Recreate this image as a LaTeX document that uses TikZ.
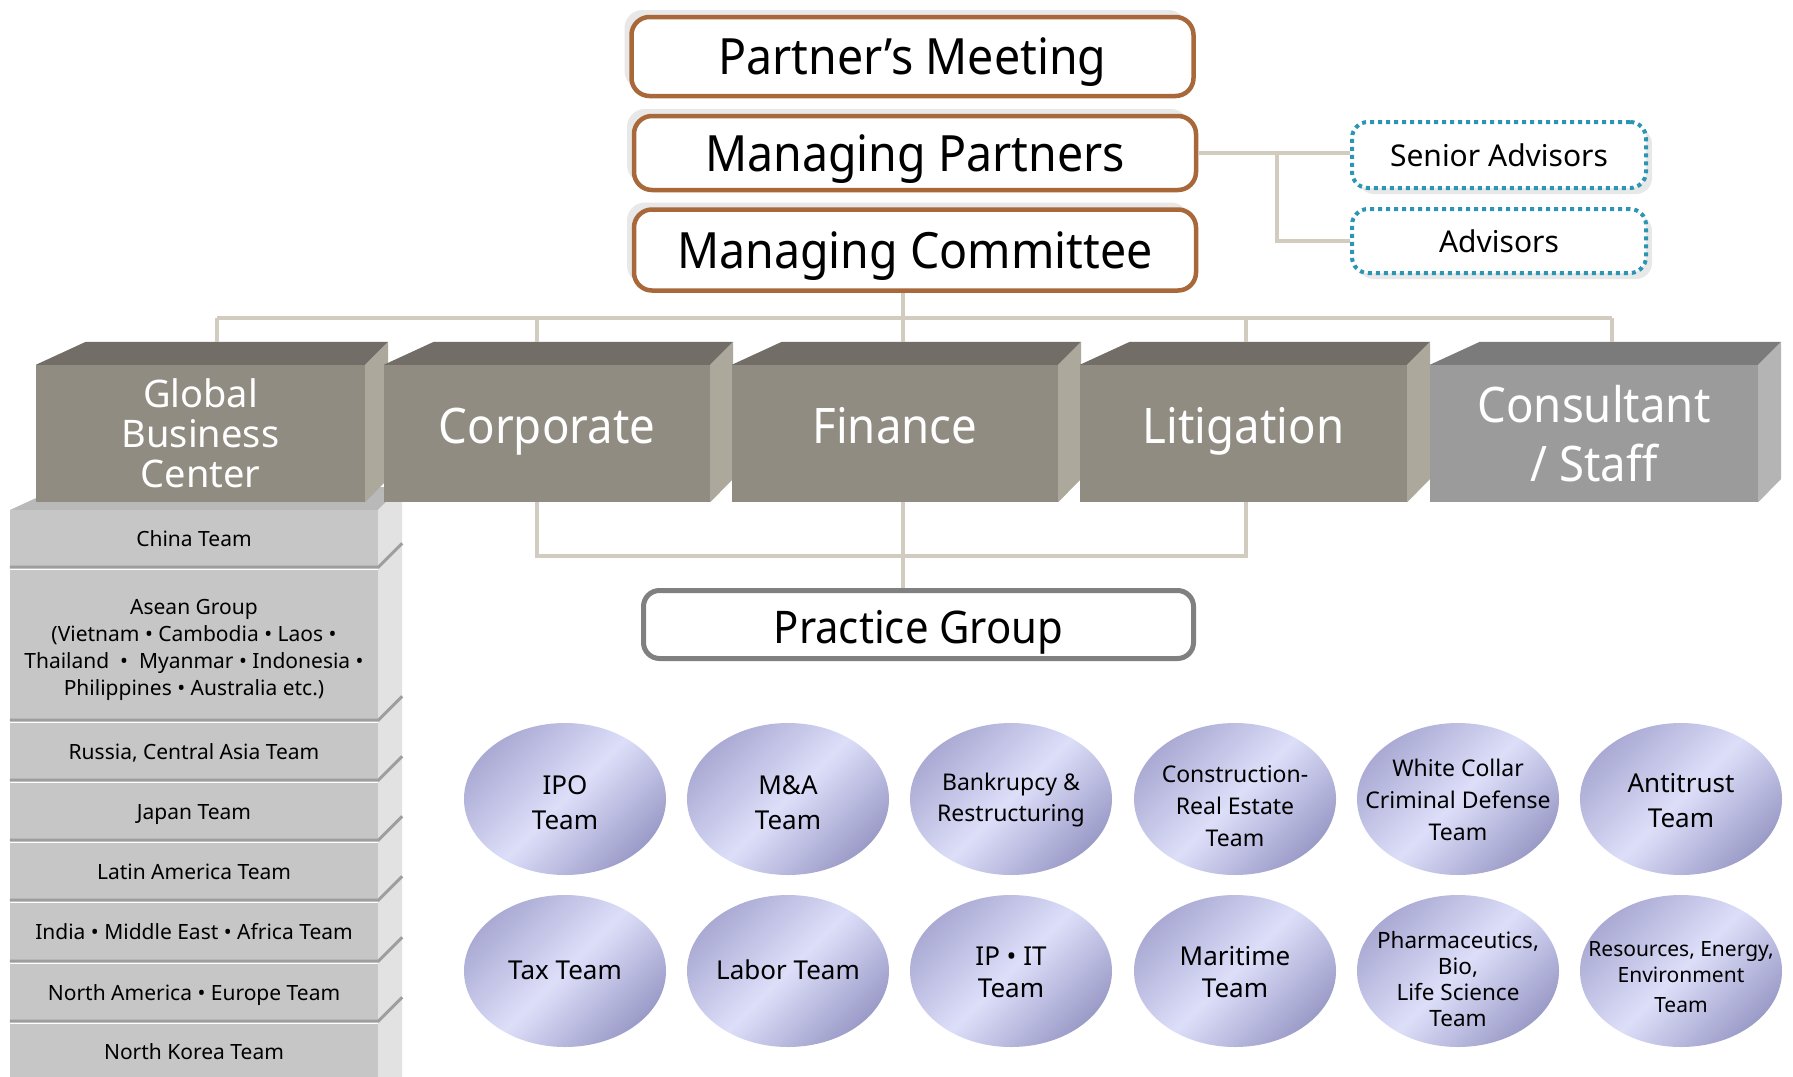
\documentclass[tikz,border=0pt]{standalone}
\usepackage{fontspec}
\setmainfont{Noto Sans}
\newfontfamily\narrowf{Noto Sans}[FakeStretch=0.93]
\usetikzlibrary{shapes.geometric,shadows}
\definecolor{brownb}{RGB}{168,104,58}
\definecolor{shad}{RGB}{232,232,232}
\definecolor{tealb}{RGB}{42,150,180}
\definecolor{conncol}{RGB}{210,203,192}
\definecolor{bfront}{RGB}{144,140,129}
\definecolor{btop}{RGB}{114,109,102}
\definecolor{bside}{RGB}{172,168,156}
\definecolor{cfront}{RGB}{155,155,155}
\definecolor{ctop}{RGB}{123,123,123}
\definecolor{cside}{RGB}{180,180,180}
\definecolor{rfront}{RGB}{198,198,198}
\definecolor{rline}{RGB}{158,158,158}
\definecolor{rside}{RGB}{226,226,226}
\definecolor{rtop}{RGB}{185,185,185}
\definecolor{ellin}{RGB}{221,223,249}
\definecolor{ellA}{RGB}{170,170,212}
\definecolor{ellB}{RGB}{155,155,200}
\definecolor{pgray}{RGB}{128,128,128}
\newcommand\blockfaces[3]{%
  \fill[#2] (#1.north west) -- ++(50,-23) -- ([shift={(23,-23)}]#1.north east) -- (#1.north east) -- cycle;
  \fill[#3] (#1.north east) -- ++(23,-23) -- ++(0,137) -- (#1.south east) -- cycle;
}
\newcommand\etext[2][0pt]{\raisebox{\dimexpr-0.25em-3.5pt-#1\relax}[0pt][0pt]{\makebox[0pt]{\begin{tabular}{@{}c@{}}#2\end{tabular}}}}
\begin{document}
\begin{tikzpicture}[x=1pt,y=-1pt,
  conn/.style={draw=conncol, line width=4pt},
  topbox/.style={draw=brownb, line width=4.5pt, rounded corners=18pt, fill=white,
    minimum width=562pt, inner sep=0pt, font=\narrowf\fontsize{50}{60}\selectfont,
    text height=36pt, text depth=0pt,
    drop shadow={shadow xshift=-7pt,shadow yshift=7pt,fill=shad,opacity=1}},
  advbox/.style={draw=tealb, line width=4pt, dash pattern=on 4pt off 4pt, rounded corners=16pt,
    fill=white, minimum width=294pt, inner sep=0pt, font=\fontsize{30}{36}\selectfont,
    drop shadow={shadow xshift=6pt,shadow yshift=-6pt,fill=shad,opacity=1}},
  blk/.style={fill=bfront, minimum height=137pt, inner sep=0pt, text=white, align=center},
  rowbox/.style={fill=rfront, minimum width=368pt, inner sep=0pt,
    font=\fontsize{21}{27}\selectfont},
  rowtxt/.style={text height=15pt, text depth=0pt},
  rln/.style={draw=rline, line width=3pt},
  ell/.style={ellipse, minimum width=202pt, minimum height=152pt, inner sep=0pt,
    top color=ellA, bottom color=ellB, middle color=ellin, shading angle=45},
  pgbox/.style={draw=pgray, line width=5pt, rounded corners=16pt, fill=white,
    minimum width=550pt, minimum height=68pt, inner sep=0pt, text height=37pt, text depth=0pt,
    font=\narrowf\fontsize{45}{54}\selectfont}
]
\useasboundingbox (0,0) rectangle (1793,1076);
\fill[white] (0,0) rectangle (1793,1076);

% top boxes
\node[topbox, minimum height=79pt] (pm) at (912.5,56.5) {Partner’s Meeting};
\node[topbox, minimum height=74pt] (mp) at (915,153) {Managing Partners};
\node[topbox, minimum height=81pt] (mc) at (915,250) {Managing Committee};

% advisors
\node[advbox, minimum height=66pt] (sa) at (1499,155) {Senior Advisors};
\node[advbox, minimum height=64pt] (adv) at (1499,241) {Advisors};
\coordinate (aj) at (1277,0);
\draw[conn] (mp.east) -- (sa.west |- mp.east);
\draw[conn] (aj |- mp.east) |- (adv.west);

% list stack (Global Business Center)
\fill[rtop] (10,510) -- (60,487) -- (402,487) -- (378,510) -- cycle;
\fill[rside] (378,510) -- (402,486) -- (402,1080) -- (378,1080) -- cycle;
\node[rowbox, rowtxt, minimum height=57pt] (r1) at (194,538.5) {China Team};
\node[rowbox, minimum height=150pt] (r2) at (194,645) {\etext[1pt]{Asean Group\\(Vietnam • Cambodia • Laos •\\Thailand\ \ • \ Myanmar • Indonesia •\\Philippines • Australia etc.)}};
\node[rowbox, rowtxt, minimum height=57pt] (r3) at (194,751.5) {Russia, Central Asia Team};
\node[rowbox, rowtxt, minimum height=57pt] (r4) at (194,811.5) {Japan Team};
\node[rowbox, rowtxt, minimum height=57pt] (r5) at (194,871.5) {Latin America Team};
\node[rowbox, rowtxt, minimum height=58pt] (r6) at (194,932) {India • Middle East • Africa Team};
\node[rowbox, rowtxt, minimum height=57pt] (r7) at (194,992.5) {North America • Europe Team};
\node[rowbox, rowtxt, minimum height=56pt] (r8) at (194,1052) {North Korea Team};
\foreach \r in {r1,r2,r3,r4,r5,r6,r7}{
  \draw[rln] (\r.south west) -- (\r.south east) -- ++(24,-24);
}

% category blocks
\node[blk, minimum width=329pt, font=\fontsize{38}{40}\selectfont] (gbc) at (200.5,433.5) {Global\\Business\\Center};
\blockfaces{gbc}{btop}{bside}
\node[blk, minimum width=326pt, font=\narrowf\fontsize{49}{59}\selectfont, text height=36pt, text depth=17pt] (corp) at (547,433.5) {Corporate};
\blockfaces{corp}{btop}{bside}
\node[blk, minimum width=326pt, font=\narrowf\fontsize{49}{59}\selectfont, text height=36pt, text depth=17pt] (fin) at (895,433.5) {Finance};
\blockfaces{fin}{btop}{bside}
\node[blk, minimum width=327pt, font=\narrowf\fontsize{49}{59}\selectfont, text height=36pt, text depth=17pt] (lit) at (1243.5,433.5) {Litigation};
\blockfaces{lit}{btop}{bside}
\node[blk, fill=cfront, minimum width=328pt, font=\narrowf\fontsize{49}{59}\selectfont] (cons) at (1594,433.5) {Consultant\\/ Staff};
\blockfaces{cons}{ctop}{cside}

% top bus
\coordinate (tb1) at (217,318);
\coordinate (tb2) at (537,318);
\coordinate (tb3) at (903,318);
\coordinate (tb4) at (1246,318);
\coordinate (tb5) at (1612,318);
\coordinate (gtop) at ([shift={(0,-23)}]gbc.north);
\draw[conn] (tb1) -- (tb5);
\draw[conn] (mc.south -| tb3) -- (tb3);
\draw[conn] (tb1) -- (tb1 |- gtop);
\draw[conn] (tb2) -- (tb2 |- gtop);
\draw[conn] (tb3) -- (tb3 |- gtop);
\draw[conn] (tb4) -- (tb4 |- gtop);
\draw[conn] (tb5) -- (tb5 |- gtop);

% practice group
\node[pgbox] (pg) at (918.5,624.5) {Practice Group};
\coordinate (jc) at (537,556);
\coordinate (jf) at (903,556);
\coordinate (jl) at (1246,556);
\draw[conn] (corp.south -| jc) -- (jc) -- (jl) -- (lit.south -| jl);
\draw[conn] (fin.south -| jf) -- (jf |- pg.north);

% practice teams
\node[ell, font=\fontsize{26}{35}\selectfont] (e1) at (565,799) {\etext[2pt]{IPO\\Team}};
\node[ell, font=\fontsize{26}{35}\selectfont] (e2) at (788,799) {\etext[2pt]{M\&A\\Team}};
\node[ell, font=\fontsize{23}{31}\selectfont] (e3) at (1011,799) {\etext[-2pt]{Bankrupcy \&\\Restructuring}};
\node[ell, font=\fontsize{23}{32}\selectfont] (e4) at (1235,799) {\etext[6pt]{Construction-\\Real Estate\\Team}};
\node[ell, font=\fontsize{23}{32}\selectfont] (e5) at (1458,799) {\etext{White Collar\\Criminal Defense\\Team}};
\node[ell, font=\fontsize{26}{35}\selectfont] (e6) at (1681,799) {\etext{Antitrust\\Team}};
\node[ell, font=\fontsize{26}{35}\selectfont] (e7) at (565,971) {\etext[-2pt]{Tax Team}};
\node[ell, font=\fontsize{26}{35}\selectfont] (e8) at (788,971) {\etext[-2pt]{Labor Team}};
\node[ell, font=\fontsize{26}{32}\selectfont] (e9) at (1011,971) {\etext{IP • IT\\Team}};
\node[ell, font=\fontsize{26}{32}\selectfont] (e10) at (1235,971) {\etext{Maritime\\Team}};
\node[ell, font=\fontsize{22.5}{26}\selectfont] (e11) at (1458,971) {\etext[7pt]{Pharmaceutics,\\Bio,\\Life Science\\Team}};
\node[ell, font=\fontsize{21}{26}\selectfont] (e12) at (1681,971) {\etext[5pt]{Resources, Energy,\\Environment\\[4pt]Team}};
\end{tikzpicture}
\end{document}
